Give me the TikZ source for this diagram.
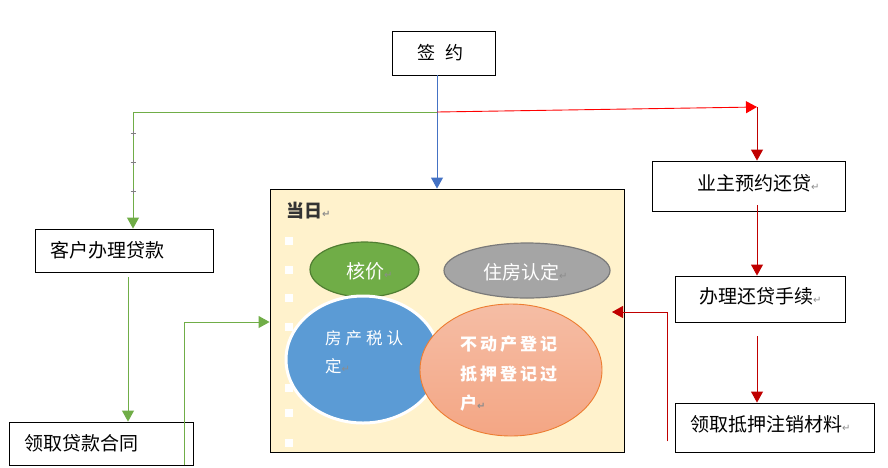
\documentclass[tikz,border=0pt]{standalone}
\usepackage{fontspec}
\setmainfont{Noto Sans CJK SC}
\newfontfamily\symfont{DejaVu Sans}
\usetikzlibrary{arrows.meta,shapes.geometric,calc}
\definecolor{cgreen}{HTML}{70AD47}
\definecolor{cgreendk}{HTML}{507E32}
\definecolor{cblue}{HTML}{4472C4}
\definecolor{cbluefill}{HTML}{5B9BD5}
\definecolor{cred}{HTML}{FF0000}
\definecolor{cdred}{HTML}{C00000}
\definecolor{cgray}{HTML}{A5A5A5}
\definecolor{cgraydk}{HTML}{7A7A7A}
\definecolor{dayfill}{HTML}{FFF2CC}
\definecolor{corange}{HTML}{ED7D31}
\definecolor{otop}{HTML}{F5BDA5}
\definecolor{obot}{HTML}{F4A684}
\definecolor{retgray}{HTML}{8C8C8C}
\newcommand\retmark{{\symfont\fontsize{10}{10}\selectfont\textcolor{retgray}{↵}}}
\newcommand\gapA{\hspace{4pt}}
\newcommand\gapB{\hspace{3pt}}
\tikzset{
  boxnode/.style={draw=black, line width=0.9pt, fill=white, rectangle, inner sep=0pt},
  txt/.style={inner sep=0pt, anchor=base west, font=\fontsize{19}{19}\selectfont},
  wtxt/.style={txt, text=white},
  tip/.style={-{Triangle[length=11pt,width=12pt]}},
  gline/.style={draw=cgreen, line width=0.9pt, tip},
  rline/.style={draw=cred, line width=0.9pt, tip},
  drline/.style={draw=cdred, line width=0.9pt, tip},
  bline/.style={draw=cblue, line width=0.9pt, tip},
  whitesq/.style={fill=white, draw=none}
}
\begin{document}
\begin{tikzpicture}[x=1pt,y=-1pt]
\useasboundingbox (0,0) rectangle (888,467);
\fill[white] (0,0) rectangle (888,467);

% boxes
\node[boxnode, minimum width=103pt, minimum height=44pt] (sign) at (443.5,53) {};
\node[boxnode, fill=dayfill, minimum width=354pt, minimum height=263pt] (day) at (447,320.5) {};
\node[boxnode, minimum width=178pt, minimum height=43pt] (loan) at (124,250.5) {};
\node[boxnode, minimum width=184pt, minimum height=43pt] (contract) at (101,443.5) {};
\node[boxnode, minimum width=193pt, minimum height=50pt] (owner) at (748.5,186) {};
\node[boxnode, minimum width=170pt, minimum height=46pt] (proc) at (760,299) {};
\node[boxnode, minimum width=199pt, minimum height=49pt] (mat) at (774.5,427.5) {};

% small white marks along the left edge of the day box
\foreach \yy in {241,270,298,327,356,388,413,443}
  \fill[whitesq] (285,\yy-4) rectangle (293,\yy+4);

% ellipses
\node[ellipse, draw=cgreendk, fill=cgreen, line width=1.2pt, minimum width=109pt, minimum height=55pt, inner sep=0pt] (hej) at (364.5,269.5) {};
\node[ellipse, draw=cgraydk, fill=cgray, line width=1.2pt, minimum width=166pt, minimum height=55pt, inner sep=0pt] (zfe) at (527,270.5) {};
\node[ellipse, draw=white, fill=cbluefill, line width=3pt, minimum width=154pt, minimum height=127pt, inner sep=0pt] (fce) at (363,359.5) {};
\node[ellipse, draw=corange, top color=otop, bottom color=obot, line width=0.9pt, minimum width=182pt, minimum height=132pt, inner sep=0pt] (bde) at (511,370) {};

% texts
\node[txt, font=\fontsize{18}{18}\selectfont] (signt) at (417,59) {签\hspace{10pt}约};
\node[txt] (loant) at (50,257) {客户办理贷款};
\node[txt] (contractt) at (24,450) {领取贷款合同};
\node[txt] (ownert) at (697,190) {业主预约还贷\retmark};
\node[txt] (proct) at (699,303) {办理还贷手续\retmark};
\node[txt] (matt) at (690,431) {领取抵押注销材料\retmark};
\node[txt, font=\fontsize{18}{18}\selectfont\bfseries, text={black!80}] (dayt) at (286,217) {当日\retmark};
\node[wtxt] (hejt) at (346,278) {核价\retmark};
\node[wtxt] (zfet) at (483,279) {住房认定\retmark};
\node[wtxt, font=\fontsize{16.5}{16.5}\selectfont] (fcet1) at (325,344) {房\gapA 产\gapA 税\gapA 认};
\node[wtxt, font=\fontsize{16.5}{16.5}\selectfont] (fcet2) at (325,372) {定\retmark};
\node[wtxt, font=\fontsize{17}{17}\selectfont\bfseries] (bdet1) at (460,350) {不\gapB 动\gapB 产\gapB 登\gapB 记};
\node[wtxt, font=\fontsize{17}{17}\selectfont\bfseries] (bdet2) at (460,380) {抵\gapB 押\gapB 登\gapB 记\gapB 过};
\node[wtxt, font=\fontsize{17}{17}\selectfont\bfseries] (bdet3) at (460,409) {户\retmark};

% helper coordinates
\coordinate (split) at (437,112);
\coordinate (rcorner) at (757,107);
\coordinate (loanin) at ($(loan.north)+(9,0)$);
\coordinate (loanout) at ($(loan.south)+(4,5)$);
\coordinate (cup) at (184,465);
\coordinate (cin) at (day.west |- 0,322);
\coordinate (matback) at ($(mat.south west)+(-7,-11)$);
\coordinate (retin) at (612,312);
\coordinate (procout) at ($(proc.south -| rcorner)+(0,14)$);

% connectors
\draw[bline] (sign.south -| split) -- (day.north -| split);
\draw[gline] (split) -| (loanin);
\foreach \yy in {133,162,191}{
  \draw[gray, line width=0.6pt] (130.5,\yy) -- (135.5,\yy);
  \draw[gray, line width=0.6pt] (133,\yy-2.5) -- (133,\yy+2.5);}
\draw[rline] (split) -- (rcorner);
\draw[drline] (rcorner) -- (owner.north -| rcorner);
\draw[drline] ($(owner.south -| rcorner)+(0,-6)$) -- (proc.north -| rcorner);
\draw[drline] (procout) -- (mat.north -| rcorner);
\draw[drline] (matback) |- (retin);
\draw[gline] (loanout) -- (loanout |- contract.north);
\draw[gline] (cup) |- (cin);
\end{tikzpicture}
\end{document}
